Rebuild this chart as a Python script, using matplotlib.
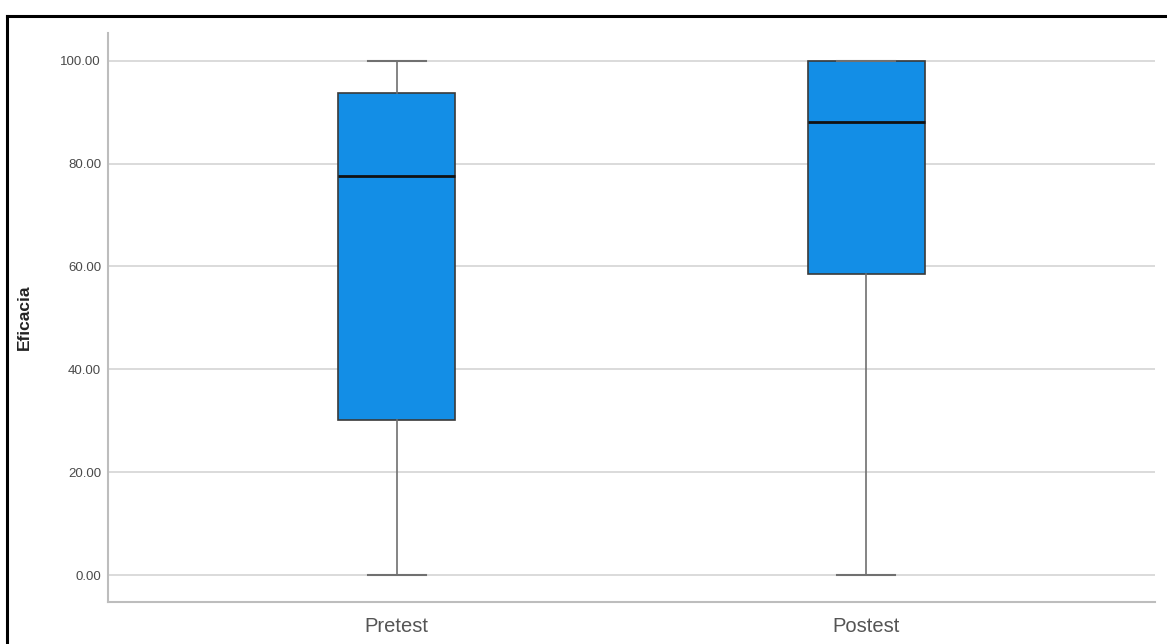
import matplotlib
matplotlib.use("Agg")
import matplotlib.pyplot as plt
from matplotlib.lines import Line2D

plt.rcParams["font.family"] = ["Liberation Sans", "DejaVu Sans"]

groups = ["Pretest", "Postest"]
minimum = [0.0, 0.0]
q1 = [30.2, 58.6]
median = [77.5, 88.1]
q3 = [93.8, 100.0]
maximum = [100.0, 100.0]
yticks = [0, 20, 40, 60, 80, 100]

fig = plt.figure(figsize=(11.67, 6.44), dpi=100)
ax = fig.add_axes([0.0925, 0.0652, 0.8972, 0.8836])

stats = []
for g, lo, a, m, b, hi in zip(groups, minimum, q1, median, q3, maximum):
    stats.append(dict(label=g, whislo=lo, q1=a, med=m, q3=b, whishi=hi, fliers=[]))

ax.bxp(stats, positions=[1, 2], widths=0.25, patch_artist=True, showfliers=False,
       boxprops=dict(facecolor="#138ee6", edgecolor="#3a3a3a", linewidth=1.2),
       medianprops=dict(color="#111111", linewidth=2.0),
       whiskerprops=dict(color="#707070", linewidth=1.2),
       capprops=dict(color="#707070", linewidth=1.5),
       capwidths=0.123, zorder=3)

ax.set_xlim(0.385, 2.615)
ax.set_ylim(-5.25, 105.4)
ax.set_yticks(yticks)
ax.set_yticklabels([f"{v:.2f}" for v in yticks], fontsize=9.5, color="#4a4a4a")
ax.set_xticks([1, 2])
ax.set_xticklabels(groups, fontsize=14.5, color="#555555")
ax.tick_params(axis="y", length=0, pad=5)
ax.tick_params(axis="x", length=0, pad=11)
ax.yaxis.grid(True, color="#d8d8d8", linewidth=1.3, zorder=0)
ax.set_axisbelow(True)

for side in ("top", "right"):
    ax.spines[side].set_visible(False)
for side in ("left", "bottom"):
    ax.spines[side].set_color("#bdbdbd")
    ax.spines[side].set_linewidth(1.5)

ax.set_ylabel("Eficacia", fontsize=12.5, fontweight="bold", color="#222222")
ax.yaxis.set_label_coords(-76 / 1047, 0.5)

# outer frame
fig.add_artist(Line2D([7 / 1167, 7 / 1167], [0, 1 - 16 / 644], transform=fig.transFigure,
                      color="black", linewidth=2.2))
fig.add_artist(Line2D([7 / 1167, 1], [1 - 16 / 644, 1 - 16 / 644], transform=fig.transFigure,
                      color="black", linewidth=2.2))

fig.savefig("out.png", dpi=100, facecolor="white")
